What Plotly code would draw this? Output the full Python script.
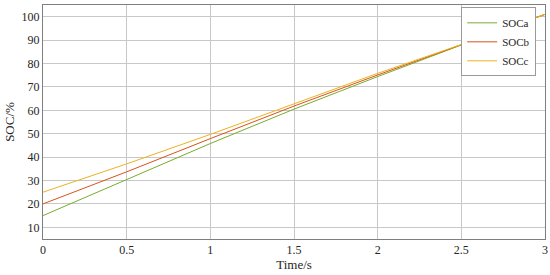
import plotly.graph_objects as go

# 시간축 / SOC 데이터
time_s = [0, 0.5, 1, 1.5, 2, 2.5, 3]
soc_a = [15, 30.3, 45.8, 60.5, 74.4, 87.9, 101]
soc_b = [20, 33.7, 47.9, 61.8, 75.1, 88.0, 101]
soc_c = [25, 37.1, 49.7, 62.9, 75.8, 88.1, 101]

x_ticks = [0, 0.5, 1, 1.5, 2, 2.5, 3]
x_labels = ['0', '0.5', '1', '1.5', '2', '2.5', '3']
y_ticks = [10, 20, 30, 40, 50, 60, 70, 80, 90, 100]

series = [
    ('SOCa', soc_a, '#77AC30'),
    ('SOCb', soc_b, '#D95319'),
    ('SOCc', soc_c, '#EDB120'),
]

fig = go.Figure()
for name, vals, color in series:
    fig.add_trace(go.Scatter(
        name=name, x=time_s, y=vals, mode='lines',
        line=dict(color=color, width=1),
    ))

axis_style = dict(
    showline=True, mirror=True, linecolor='#7f7f7f', linewidth=1,
    showgrid=True, gridcolor='#c8c8c8', gridwidth=1,
    ticks='', zeroline=False, automargin=False,
    tickfont=dict(family='Liberation Serif', size=12, color='#262626'),
)

fig.update_layout(
    width=550, height=275,
    margin=dict(l=43, r=5, t=5, b=36),
    plot_bgcolor='white', paper_bgcolor='white',
    font=dict(family='Liberation Serif', size=13, color='#262626'),
    xaxis=dict(
        range=[0, 3], tickvals=x_ticks, ticktext=x_labels,
        title=dict(text='Time/s', standoff=0, font=dict(size=13)),
        **axis_style,
    ),
    yaxis=dict(
        range=[5, 105], tickvals=y_ticks,
        title=dict(text='SOC/%', standoff=4, font=dict(size=13)),
        **axis_style,
    ),
    legend=dict(
        x=0.833, y=0.99, xanchor='left', yanchor='top',
        bgcolor='white', bordercolor='#9a9a9a', borderwidth=1,
        font=dict(family='Liberation Serif', size=11, color='#262626'),
        tracegroupgap=0, itemwidth=30,
    ),
    showlegend=True,
)

# body 기본 여백(8px) 제거, 모드바 숨김
fig.write_html('out.html', config={'displayModeBar': False},
               post_script="document.body.style.margin='0';")
